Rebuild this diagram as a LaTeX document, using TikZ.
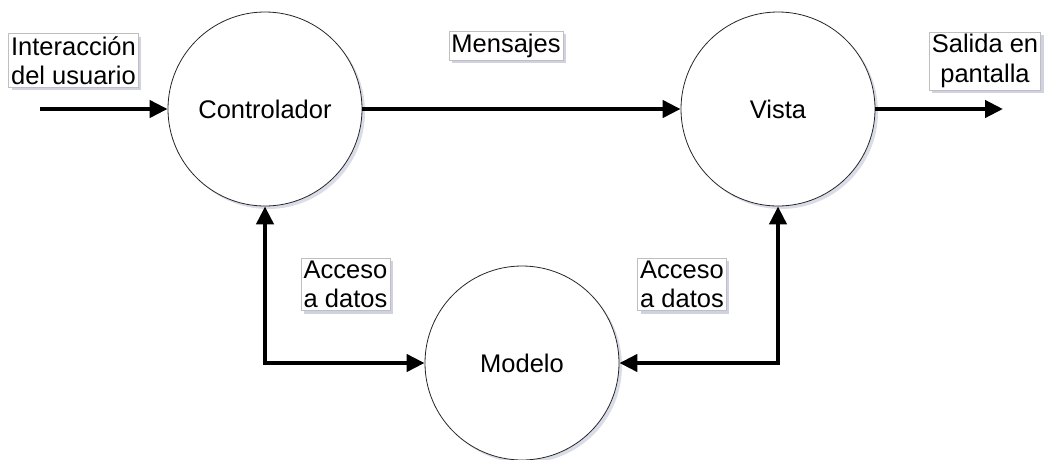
\documentclass[tikz,border=0pt]{standalone}
\usepackage{fontspec}
\setmainfont{Liberation Sans}
\usetikzlibrary{arrows.meta,shadows}
\definecolor{shadowc}{RGB}{150,155,190}
\begin{document}
\begin{tikzpicture}[x=1pt,y=-1pt,
  txt/.style={font=\fontsize{25.5}{29.5}\selectfont},
  proc/.style={circle,draw=black!85,line width=0.8pt,fill=white,minimum size=194pt,inner sep=0pt,txt,
    drop shadow={shadow xshift=3pt,shadow yshift=-3pt,fill=shadowc,opacity=0.35}},
  lbl/.style={draw=black!25,line width=0.6pt,fill=white,inner sep=2.5pt,txt,
    drop shadow={shadow xshift=3pt,shadow yshift=-3pt,fill=shadowc,opacity=0.45}},
  flow/.style={line width=4.2pt,-{Triangle[length=18pt,width=17pt]}},
  both/.style={line width=4.2pt,{Triangle[length=18pt,width=17pt]}-{Triangle[length=18pt,width=17pt]}}
]
\useasboundingbox (0,0) rectangle (1047,459);
\node[proc] (ctrl) at (265,109) {Controlador};
\node[proc] (vista) at (778,109) {Vista};
\node[proc] (model) at (522,363) {Modelo};
\coordinate (in) at (40,109);
\coordinate (out) at (1003,109);
\draw[flow] (in) -- (ctrl.west);
\draw[flow] (ctrl.east) -- (vista.west);
\draw[flow] (vista.east) -- (out);
\draw[both] (ctrl.south) |- (model.west);
\draw[both] (vista.south) |- (model.east);
\node[lbl,align=left] (l1) at (73.5,60.5) {Interacción\\del usuario};
\node[lbl] (l2) at (506,45.5) {Mensajes};
\node[lbl,align=center] (l3) at (985,61) {Salida en\\pantalla};
\node[lbl,align=left] (l4) at (345.5,284.5) {Acceso\\a datos};
\node[lbl,align=left] (l5) at (682,284.5) {Acceso\\a datos};
\end{tikzpicture}
\end{document}
